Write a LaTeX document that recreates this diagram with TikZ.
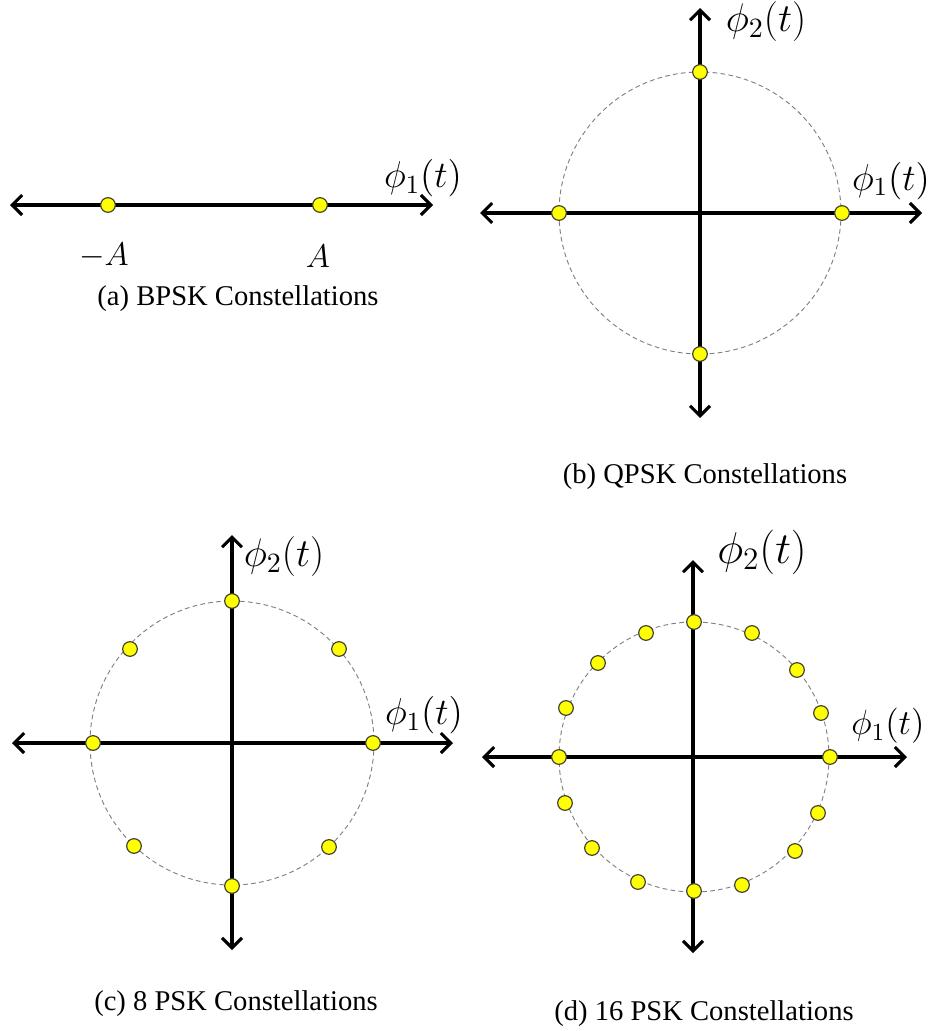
\RequirePackage{fix-cm}
\documentclass[tikz,border=0pt]{standalone}
\usepackage{amsmath}
\usepackage{fontspec}
\setmainfont{Liberation Serif}
\usepackage{tikz}
\usetikzlibrary{arrows.meta}
\definecolor{dotyellow}{rgb}{1,1,0}
\definecolor{dotedge}{rgb}{0.25,0.25,0.2}

\begin{document}
\begin{tikzpicture}[x=0.015cm, y=-0.015cm,
    axis/.style={line width=1.3pt, {Straight Barb[length=1.5mm,width=3mm]}-{Straight Barb[length=1.5mm,width=3mm]}},
    ring/.style={gray, line width=0.4pt, dash pattern=on 2pt off 1.4pt},
    dot/.style={draw=dotedge, fill=dotyellow, circle, line width=0.5pt, minimum size=0.22cm, inner sep=0pt},
    lbl/.style={inner sep=0pt, font=\fontsize{#1}{#1}\selectfont},
    caption/.style={inner sep=0pt, font=\fontsize{12.2}{14}\selectfont}]
    \useasboundingbox (0,0) rectangle (933,1031);

    % (a) BPSK
    \coordinate (aL) at (10,205);
    \coordinate (aR) at (433,205);
    \draw[axis] (aL) -- (aR);
    \node[dot] (a1) at (108,205) {};
    \node[dot] (a2) at (320,205) {};
    \node[lbl=16] (aphi1) at (423,178) {$\phi_1(t)$};
    \node[lbl=14] (aminus) at (104,256) {$-A$};
    \node[lbl=14] (aplus) at (318,256) {$A$};
    \node[caption] (capa) at (238,299) {(a) BPSK Constellations};

    % (b) QPSK
    \coordinate (bL) at (480,213);
    \coordinate (bR) at (922,213);
    \coordinate (bT) at (700,8);
    \coordinate (bB) at (700,418);
    \draw[axis] (bL) -- (bR);
    \draw[axis] (bB) -- (bT);
    \draw[ring] (700,213) circle[radius=141];
    \node[dot] (b1) at (842,213) {};
    \node[dot] (b2) at (700,72) {};
    \node[dot] (b3) at (559,213) {};
    \node[dot] (b4) at (700,354) {};
    \node[lbl=17] (bphi2) at (766,22) {$\phi_2(t)$};
    \node[lbl=16] (bphi1) at (891,181) {$\phi_1(t)$};
    \node[caption] (capb) at (705,477) {(b) QPSK Constellations};

    % (c) 8 PSK
    \coordinate (cL) at (12,743);
    \coordinate (cR) at (453,743);
    \coordinate (cT) at (232,535);
    \coordinate (cB) at (232,950);
    \draw[axis] (cL) -- (cR);
    \draw[axis] (cB) -- (cT);
    \draw[ring] (232,743) circle[radius=142];
    \node[dot] (c1) at (373,743) {};
    \node[dot] (c2) at (339,649) {};
    \node[dot] (c3) at (232,601) {};
    \node[dot] (c4) at (130,649) {};
    \node[dot] (c5) at (93,743) {};
    \node[dot] (c6) at (134,846) {};
    \node[dot] (c7) at (232,886) {};
    \node[dot] (c8) at (329,847) {};
    \node[lbl=17] (cphi2) at (284,557) {$\phi_2(t)$};
    \node[lbl=16] (cphi1) at (424,715) {$\phi_1(t)$};
    \node[caption] (capc) at (236,1004) {(c) 8 PSK Constellations};

    % (d) 16 PSK
    \coordinate (dL) at (482,757);
    \coordinate (dR) at (907,757);
    \coordinate (dT) at (693,560);
    \coordinate (dB) at (693,953);
    \draw[axis] (dL) -- (dR);
    \draw[axis] (dB) -- (dT);
    \draw[ring] (694,757) circle[radius=135];
    \node[dot] (d1) at (830,757) {};
    \node[dot] (d2) at (821,713) {};
    \node[dot] (d3) at (797,670) {};
    \node[dot] (d4) at (752,633) {};
    \node[dot] (d5) at (694,622) {};
    \node[dot] (d6) at (646,633) {};
    \node[dot] (d7) at (598,663) {};
    \node[dot] (d8) at (566,708) {};
    \node[dot] (d9) at (559,757) {};
    \node[dot] (d10) at (565,803) {};
    \node[dot] (d11) at (592,848) {};
    \node[dot] (d12) at (638,882) {};
    \node[dot] (d13) at (694,891) {};
    \node[dot] (d14) at (742,885) {};
    \node[dot] (d15) at (795,851) {};
    \node[dot] (d16) at (818,813) {};
    \node[lbl=19] (dphi2) at (762,552) {$\phi_2(t)$};
    \node[lbl=15] (dphi1) at (888,726) {$\phi_1(t)$};
    \node[caption] (capd) at (704,1014) {(d) 16 PSK Constellations};

\end{tikzpicture}
\end{document}
